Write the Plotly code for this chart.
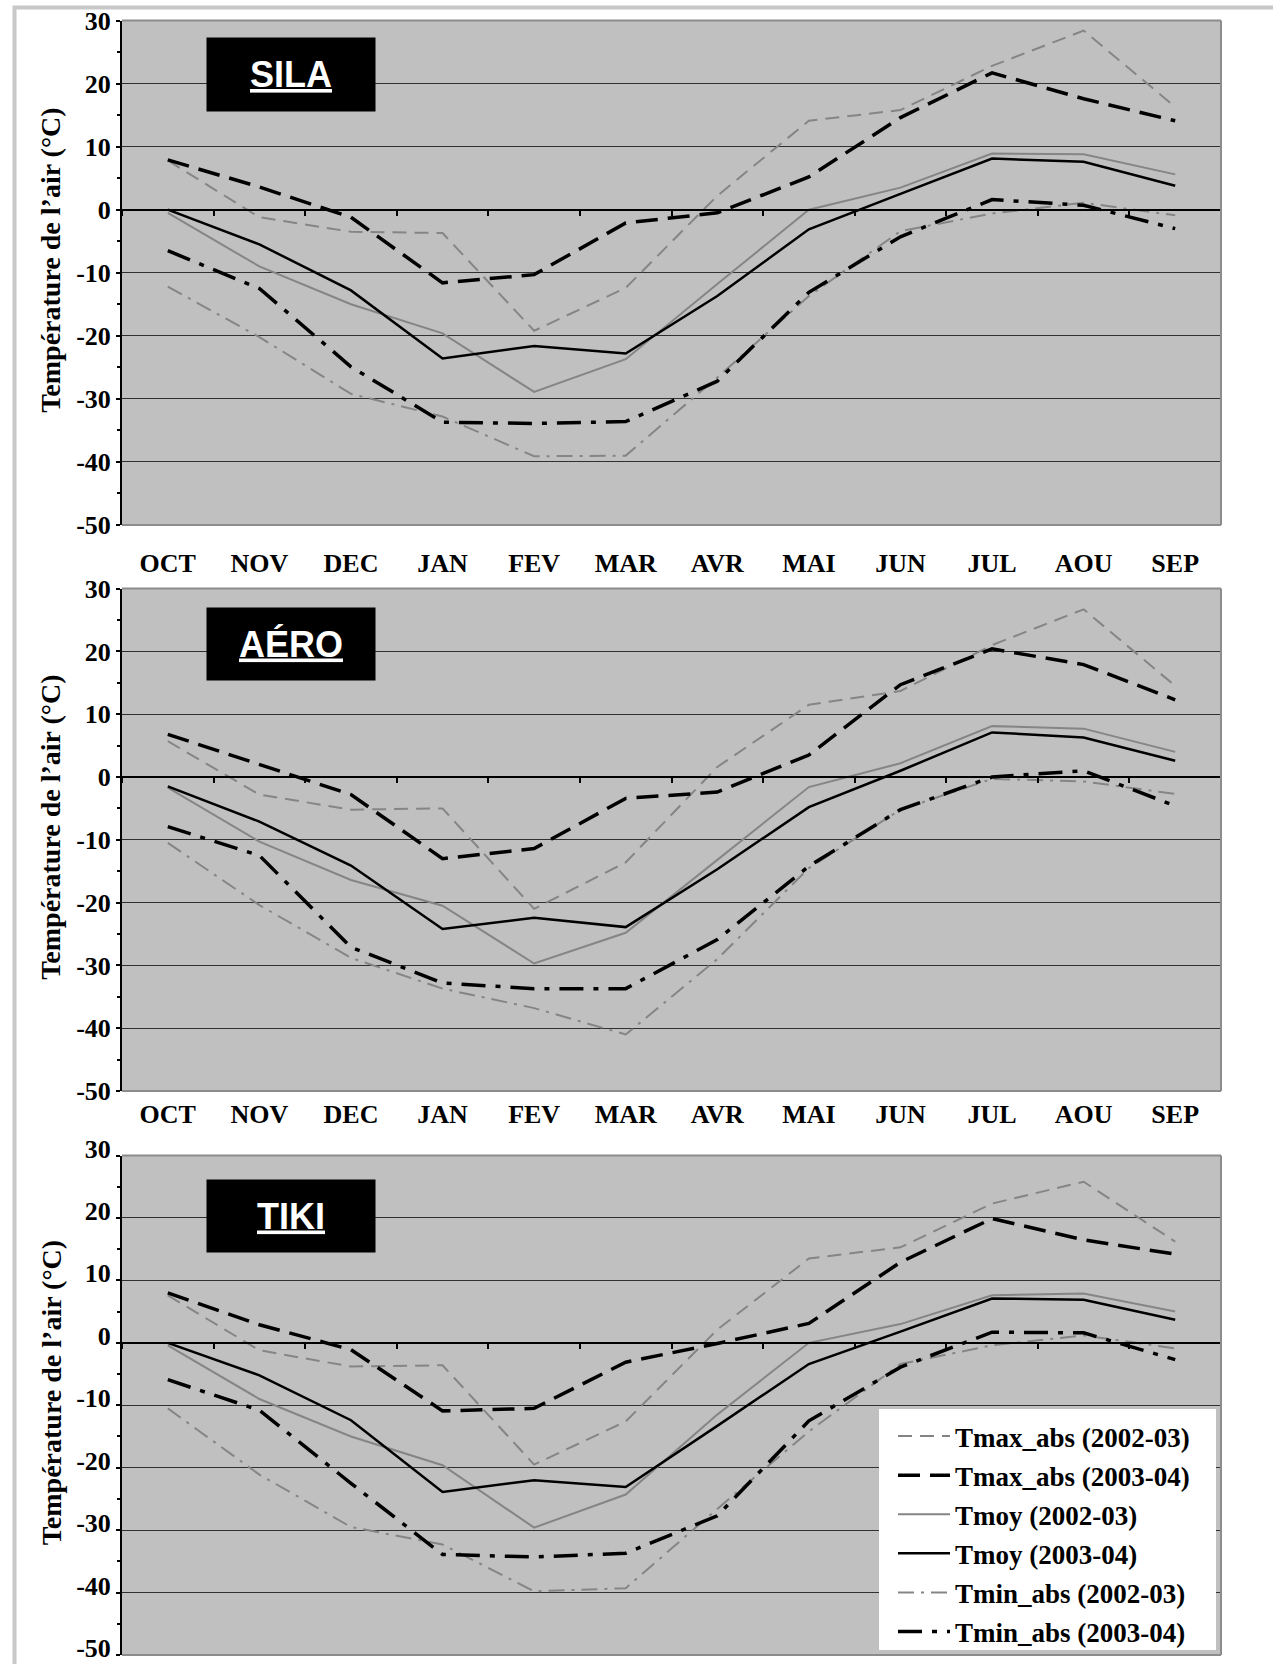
import plotly.graph_objects as go

# ---------------- data ----------------
months = ["OCT", "NOV", "DEC", "JAN", "FEV", "MAR", "AVR", "MAI", "JUN", "JUL", "AOU", "SEP"]
series_names = ["Tmax_abs (2002-03)", "Tmax_abs (2003-04)", "Tmoy (2002-03)",
                "Tmoy (2003-04)", "Tmin_abs (2002-03)", "Tmin_abs (2003-04)"]
stations = ["SILA", "AÉRO", "TIKI"]

sila_tmax_0203 = [7.8, -1.2, -3.5, -3.7, -19.2, -12.4, 2.2, 14.1, 15.8, 22.8, 28.4, 16.3]
sila_tmax_0304 = [7.9, 3.6, -1.2, -11.6, -10.3, -2.1, -0.5, 5.2, 14.6, 21.7, 17.6, 14.1]
sila_tmoy_0203 = [-0.5, -9.0, -15.0, -19.6, -28.9, -23.7, -11.8, 0.0, 3.5, 8.9, 8.8, 5.6]
sila_tmoy_0304 = [0.0, -5.5, -12.8, -23.6, -21.6, -22.8, -13.7, -3.1, 2.5, 8.1, 7.6, 3.8]
sila_tmin_0203 = [-12.2, -20.2, -29.2, -32.8, -39.1, -39.0, -26.6, -13.7, -3.4, -0.6, 1.1, -0.9]
sila_tmin_0304 = [-6.5, -12.5, -24.9, -33.7, -33.9, -33.6, -27.2, -13.1, -4.3, 1.6, 0.7, -3.0]

aero_tmax_0203 = [5.7, -2.8, -5.2, -5.0, -21.0, -13.6, 1.6, 11.5, 13.7, 21.0, 26.7, 14.5]
aero_tmax_0304 = [6.8, 2.0, -2.8, -13.0, -11.4, -3.4, -2.4, 3.5, 14.7, 20.4, 17.9, 12.3]
aero_tmoy_0203 = [-1.7, -10.3, -16.4, -20.5, -29.7, -24.8, -13.2, -1.6, 2.2, 8.1, 7.7, 4.0]
aero_tmoy_0304 = [-1.5, -7.1, -14.1, -24.2, -22.4, -23.9, -14.7, -4.8, 1.0, 7.1, 6.3, 2.6]
aero_tmin_0203 = [-10.5, -20.4, -28.8, -33.7, -36.8, -41.0, -29.0, -14.5, -5.2, -0.3, -0.7, -2.7]
aero_tmin_0304 = [-7.9, -12.5, -27.1, -32.8, -33.7, -33.7, -25.9, -14.2, -5.2, 0.0, 1.0, -4.6]

tiki_tmax_0203 = [7.6, -1.2, -3.8, -3.6, -19.5, -12.6, 2.1, 13.5, 15.3, 22.3, 25.8, 16.2]
tiki_tmax_0304 = [8.0, 2.9, -1.1, -10.9, -10.5, -3.1, -0.1, 3.1, 12.9, 19.9, 16.5, 14.2]
tiki_tmoy_0203 = [-0.4, -9.0, -15.0, -19.6, -29.6, -24.3, -11.5, 0.0, 3.0, 7.6, 7.9, 5.0]
tiki_tmoy_0304 = [0.0, -5.2, -12.4, -23.9, -22.0, -23.1, -13.3, -3.4, 1.8, 7.1, 6.9, 3.7]
tiki_tmin_0203 = [-10.5, -21.1, -29.5, -32.3, -39.8, -39.3, -26.6, -14.2, -3.4, -0.4, 1.2, -0.9]
tiki_tmin_0304 = [-5.9, -10.8, -22.5, -33.9, -34.3, -33.7, -27.7, -12.5, -3.9, 1.7, 1.6, -2.7]

y_tick_vals = [-50, -40, -30, -20, -10, 0, 10, 20, 30]
y_tick_text = ["-50", "-40", "-30", "-20", "-10", "0", "10", "20", "30"]
y_title = "Température de l’air (°C)"

station_data = [
    [sila_tmax_0203, sila_tmax_0304, sila_tmoy_0203, sila_tmoy_0304, sila_tmin_0203, sila_tmin_0304],
    [aero_tmax_0203, aero_tmax_0304, aero_tmoy_0203, aero_tmoy_0304, aero_tmin_0203, aero_tmin_0304],
    [tiki_tmax_0203, tiki_tmax_0304, tiki_tmoy_0203, tiki_tmoy_0304, tiki_tmin_0203, tiki_tmin_0304],
]

# ---------------- styles / layout constants ----------------
GRAY = "#858585"
styles = [
    dict(color=GRAY, width=2, dash="14px,8px"),
    dict(color="#000000", width=3.5, dash="22px,10px"),
    dict(color=GRAY, width=2, dash="solid"),
    dict(color="#000000", width=2.5, dash="solid"),
    dict(color=GRAY, width=2, dash="16px,7px,3px,7px"),
    dict(color="#000000", width=3.5, dash="24px,10px,5px,10px"),
]

W, H = 1273, 1664
PX_L, PX_R = 122, 1221
panels_px = [(20.5, 525.0), (588.6, 1091.0), (1155.5, 1655.0)]
box_px = [(38, 111), (608, 680), (1180, 1252)]
label_standoff = [330, 314, 314]
ylabel_shift = [0, 0, -7]
YMIN, YMAX = -50, 30

SERIF = "Liberation Serif, Times New Roman, serif"
SANS = "Liberation Sans, Arial, sans-serif"


def fy(px):
    return 1 - px / H


fig = go.Figure()
annotations = []
shapes = []

# outer frame
shapes.append(dict(type="rect", xref="paper", yref="paper",
                   x0=14.5 / W, x1=1.05, y0=-0.05, y1=fy(7.5),
                   line=dict(color="#c8c8c8", width=4), layer="below"))

for i, (name, data) in enumerate(zip(stations, station_data)):
    k = "" if i == 0 else str(i + 1)
    top, bot = panels_px[i]
    d0, d1 = fy(bot), fy(top)
    zero_frac = d0 + (0 - YMIN) / (YMAX - YMIN) * (d1 - d0)

    for j, (sname, vals) in enumerate(zip(series_names, data)):
        fig.add_trace(go.Scatter(
            x=months, y=vals, name=sname, mode="lines", legendgroup=sname,
            line=styles[j], xaxis="x" + k, yaxis="y" + k,
            showlegend=(i == 2), hoverinfo="skip"))

    fig.layout["xaxis" + k] = dict(
        domain=[PX_L / W, PX_R / W], type="category", range=[-0.5, 11.5],
        anchor="free", position=zero_frac, automargin=False,
        showline=True, linecolor="black", linewidth=2,
        ticks="outside", tickson="boundaries", ticklen=5, tickwidth=2, tickcolor="black",
        showgrid=False, zeroline=False,
        showticklabels=(i < 2), ticklabelstandoff=label_standoff[i],
        tickfont=dict(family=SERIF, size=26, color="black", weight="bold"),
    )
    fig.layout["yaxis" + k] = dict(
        domain=[d0, d1], anchor="x" + k, range=[YMIN, YMAX], automargin=False,
        tickmode="array", tickvals=y_tick_vals, ticktext=y_tick_text,
        ticklabeloverflow="allow", ticklabelshift=ylabel_shift[i],
        ticks="outside", ticklen=4, tickwidth=2, tickcolor="black",
        showline=True, linecolor="black", linewidth=2,
        showgrid=True, gridcolor="#303030", gridwidth=1, zeroline=False,
        minor=dict(dtick=5, tick0=0, ticks="outside", ticklen=3, tickwidth=1.5,
                   tickcolor="black", showgrid=False),
        tickfont=dict(family=SERIF, size=26, color="black", weight="bold"),
    )

    # plot-area border (top, right, bottom)
    for (x0, y0, x1, y1) in [(0, 1, 1, 1), (1, 0, 1, 1), (0, 0, 1, 0)]:
        shapes.append(dict(type="line", xref="x" + k + " domain", yref="y" + k + " domain",
                           x0=x0, y0=y0, x1=x1, y1=y1,
                           line=dict(color="#8c8c8c", width=2), layer="above"))

    # y axis title
    annotations.append(dict(
        text=y_title, xref="paper", yref="paper", x=51 / W, y=(d0 + d1) / 2 + 12 / H,
        textangle=-90, showarrow=False, xanchor="center", yanchor="middle",
        font=dict(family=SERIF, size=28, color="black", weight="bold")))

    # station box
    b0, b1 = box_px[i]
    annotations.append(dict(
        text="<u>" + name + "</u>", xref="paper", yref="paper",
        x=291 / W, y=fy((b0 + b1) / 2), xanchor="center", yanchor="middle",
        showarrow=False, bgcolor="black", borderpad=0, width=168, height=b1 - b0,
        font=dict(family=SANS, size=36, color="white", weight="bold")))

# white legend panel (drawn over the curves, like the original)
shapes.append(dict(type="rect", xref="paper", yref="paper",
                   x0=879 / W, x1=1216 / W, y0=fy(1650), y1=fy(1409),
                   fillcolor="white", line=dict(width=0), layer="above"))

fig.update_layout(
    width=W, height=H,
    margin=dict(l=0, r=0, t=0, b=0, autoexpand=False),
    paper_bgcolor="white", plot_bgcolor="#c0c0c0",
    showlegend=True,
    legend=dict(x=893 / W, y=fy(1412), xanchor="left", yanchor="top",
                bgcolor="rgba(0,0,0,0)", borderwidth=0, itemwidth=52, tracegroupgap=1,
                font=dict(family=SERIF, size=27, color="black", weight="bold")),
    annotations=annotations, shapes=shapes,
)

fig.write_html("out.html", config={"displayModeBar": False},
               post_script="document.body.style.margin='0';document.body.style.overflow='hidden';")
